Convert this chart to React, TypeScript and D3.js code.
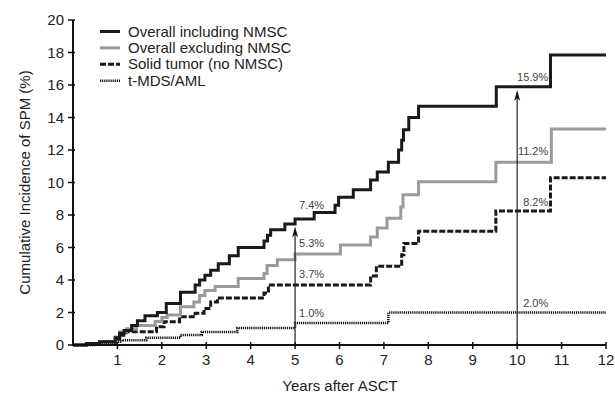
import React, { useEffect, useRef } from 'react';
import * as d3 from 'd3';

type Pt = [number, number];

// step points: [years, cumulative incidence %] value holds after each time
const overallIncl: Pt[] = [
  [0, 0], [0.3, 0.1], [0.6, 0.2], [0.95, 0.45], [1.05, 0.72], [1.15, 0.9], [1.32, 1.2],
  [1.45, 1.5], [1.62, 1.8], [1.9, 2.0], [2.1, 2.55], [2.42, 3.25], [2.75, 3.7], [2.85, 4.0],
  [2.97, 4.3], [3.1, 4.6], [3.27, 5.0], [3.52, 5.5], [3.72, 6.0], [4.3, 6.4], [4.38, 6.75],
  [4.45, 7.1], [4.77, 7.45], [5.0, 7.75], [5.43, 8.15], [5.9, 8.6], [5.98, 9.1], [6.31, 9.55],
  [6.7, 10.15], [6.85, 10.65], [7.1, 11.25], [7.33, 12.0], [7.4, 12.6], [7.44, 13.25],
  [7.56, 14.0], [7.78, 14.7], [9.53, 15.9], [10.75, 17.85],
];

const overallExcl: Pt[] = [
  [0, 0], [0.3, 0.1], [0.6, 0.2], [0.95, 0.5], [1.05, 0.8], [1.2, 1.0], [1.43, 1.2],
  [1.85, 1.45], [2.0, 1.7], [2.12, 1.85], [2.42, 2.35], [2.72, 2.65], [2.85, 3.05],
  [2.97, 3.35], [3.2, 3.6], [3.72, 4.1], [4.3, 4.4], [4.37, 4.9], [4.6, 5.25], [5.0, 5.6],
  [6.02, 6.15], [6.7, 6.65], [6.85, 7.2], [7.07, 7.8], [7.38, 8.5], [7.43, 9.25],
  [7.78, 10.05], [9.52, 11.25], [10.77, 13.3],
];

const solidTumor: Pt[] = [
  [0, 0], [0.3, 0.1], [0.6, 0.2], [0.98, 0.35], [1.05, 0.6], [1.2, 0.82], [1.88, 1.13],
  [2.05, 1.43], [2.4, 1.74], [2.75, 1.95], [2.95, 2.25], [3.1, 2.65], [3.25, 2.9],
  [4.3, 3.2], [4.4, 3.7], [6.7, 4.25], [6.83, 4.85], [7.4, 5.55], [7.45, 6.25],
  [7.78, 7.0], [9.52, 8.25], [10.75, 10.3],
];

const tmdsAml: Pt[] = [
  [0, 0], [0.5, 0.05], [0.98, 0.2], [1.1, 0.3], [1.65, 0.45], [2.42, 0.62], [2.9, 0.8],
  [3.7, 1.05], [5.0, 1.35], [7.1, 2.0],
];

const seriesNames = ['Overall including NMSC', 'Overall excluding NMSC', 'Solid tumor (no NMSC)', 't-MDS/AML'];
const xTicks = [1, 2, 3, 4, 5, 6, 7, 8, 9, 10, 11, 12];
const yTicks = [0, 2, 4, 6, 8, 10, 12, 14, 16, 18, 20];

// annotations at 5 and 10 years
const labels5 = ['7.4%', '5.3%', '3.7%', '1.0%'];
const labels5Y = [8.4, 6.05, 4.1, 1.74];
const labels10 = ['15.9%', '11.2%', '8.2%', '2.0%'];
const labels10Y = [16.25, 11.7, 8.55, 2.36];
const arrowTips: Pt[] = [[5, 7.3], [10, 15.7]];

const styles = [
  { color: '#1a1a1a', width: 3, dash: '' },
  { color: '#9a9a9a', width: 3, dash: '' },
  { color: '#1a1a1a', width: 3, dash: '6,2' },
  { color: '#111', width: 2.5, dash: '1.2,0.9' },
];

const App: React.FC = () => {
  const svgRef = useRef<SVGSVGElement>(null);

  useEffect(() => {
    const svg = d3.select(svgRef.current);
    svg.selectAll('*').remove();

    const width = 615;
    const height = 396;
    const margin = { top: 20, right: 9, bottom: 51, left: 73 };

    const x = d3.scaleLinear().domain([0, 12]).range([margin.left, width - margin.right]);
    const y = d3.scaleLinear().domain([0, 20]).range([height - margin.bottom, margin.top]);
    const font = 'Liberation Sans, Arial, sans-serif';

    const line = d3.line<Pt>()
      .x(d => x(d[0]))
      .y(d => y(d[1]))
      .curve(d3.curveStepAfter);

    const all = [overallIncl, overallExcl, solidTumor, tmdsAml];

    // draw order: dotted first, black solid last
    [3, 2, 1, 0].forEach(i => {
      const pts = all[i];
      const data: Pt[] = [...pts, [12, pts[pts.length - 1][1]]];
      svg.append('path')
        .datum(data)
        .attr('d', line)
        .attr('fill', 'none')
        .attr('stroke', styles[i].color)
        .attr('stroke-width', styles[i].width)
        .attr('stroke-dasharray', styles[i].dash || null)
        .attr('stroke-linejoin', 'miter');
    });

    // arrows
    arrowTips.forEach(([t, v]) => {
      const ax = x(t);
      const ty = y(v);
      svg.append('line')
        .attr('x1', ax).attr('x2', ax)
        .attr('y1', y(0)).attr('y2', ty + 6)
        .attr('stroke', '#222')
        .attr('stroke-width', 1.2);
      svg.append('path')
        .attr('d', `M${ax},${ty} L${ax - 3},${ty + 11} L${ax},${ty + 8} L${ax + 3},${ty + 11} Z`)
        .attr('fill', '#111');
    });

    // percent labels
    labels5.forEach((txt, i) => {
      svg.append('text')
        .attr('x', x(5) + 4)
        .attr('y', y(labels5Y[i]))
        .attr('font-family', font)
        .attr('font-size', 11)
        .attr('fill', '#444')
        .text(txt);
    });
    labels10.forEach((txt, i) => {
      svg.append('text')
        .attr('x', x(10.7))
        .attr('y', y(labels10Y[i]))
        .attr('text-anchor', 'end')
        .attr('font-family', font)
        .attr('font-size', 11)
        .attr('fill', '#444')
        .text(txt);
    });

    // axes
    svg.append('line')
      .attr('x1', x(0)).attr('x2', x(12))
      .attr('y1', y(0)).attr('y2', y(0))
      .attr('stroke', '#111').attr('stroke-width', 2);
    svg.append('line')
      .attr('x1', x(0)).attr('x2', x(0))
      .attr('y1', y(0) + 1).attr('y2', y(20))
      .attr('stroke', '#111').attr('stroke-width', 2);

    xTicks.forEach(t => {
      svg.append('line')
        .attr('x1', x(t)).attr('x2', x(t))
        .attr('y1', y(0) - 3).attr('y2', y(0) + 4)
        .attr('stroke', '#111').attr('stroke-width', 1.5);
      svg.append('text')
        .attr('x', x(t))
        .attr('y', y(0) + 20)
        .attr('text-anchor', 'middle')
        .attr('font-family', font)
        .attr('font-size', 15)
        .attr('fill', '#222')
        .text(t);
    });

    yTicks.forEach(v => {
      svg.append('line')
        .attr('x1', x(0) - 5).attr('x2', x(0) + 2)
        .attr('y1', y(v)).attr('y2', y(v))
        .attr('stroke', '#111').attr('stroke-width', 1.5);
      svg.append('text')
        .attr('x', x(0) - 9)
        .attr('y', y(v) + 5)
        .attr('text-anchor', 'end')
        .attr('font-family', font)
        .attr('font-size', 15)
        .attr('fill', '#222')
        .text(v);
    });

    // axis titles
    svg.append('text')
      .attr('x', 340)
      .attr('y', 391)
      .attr('text-anchor', 'middle')
      .attr('font-family', font)
      .attr('font-size', 15)
      .attr('fill', '#222')
      .text('Years after ASCT');
    svg.append('text')
      .attr('transform', `translate(30,${(y(0) + y(20)) / 2}) rotate(-90)`)
      .attr('text-anchor', 'middle')
      .attr('font-family', font)
      .attr('font-size', 15)
      .attr('fill', '#222')
      .text('Cumulative Incidence of SPM (%)');

    // legend
    const legend = svg.append('g').attr('transform', 'translate(100,31.5)');
    seriesNames.forEach((name, i) => {
      const ly = i * 16.4;
      legend.append('line')
        .attr('x1', 0).attr('x2', 20)
        .attr('y1', ly).attr('y2', ly)
        .attr('stroke', styles[i].color)
        .attr('stroke-width', styles[i].width)
        .attr('stroke-dasharray', styles[i].dash || null);
      legend.append('text')
        .attr('x', 28)
        .attr('y', ly + 5)
        .attr('font-family', font)
        .attr('font-size', 15)
        .attr('fill', '#222')
        .text(name);
    });
  }, []);

  return (
    <svg
      ref={svgRef}
      width={615}
      height={396}
      style={{ position: 'absolute', left: 0, top: 0, background: '#fff' }}
    />
  );
};

export default App;
